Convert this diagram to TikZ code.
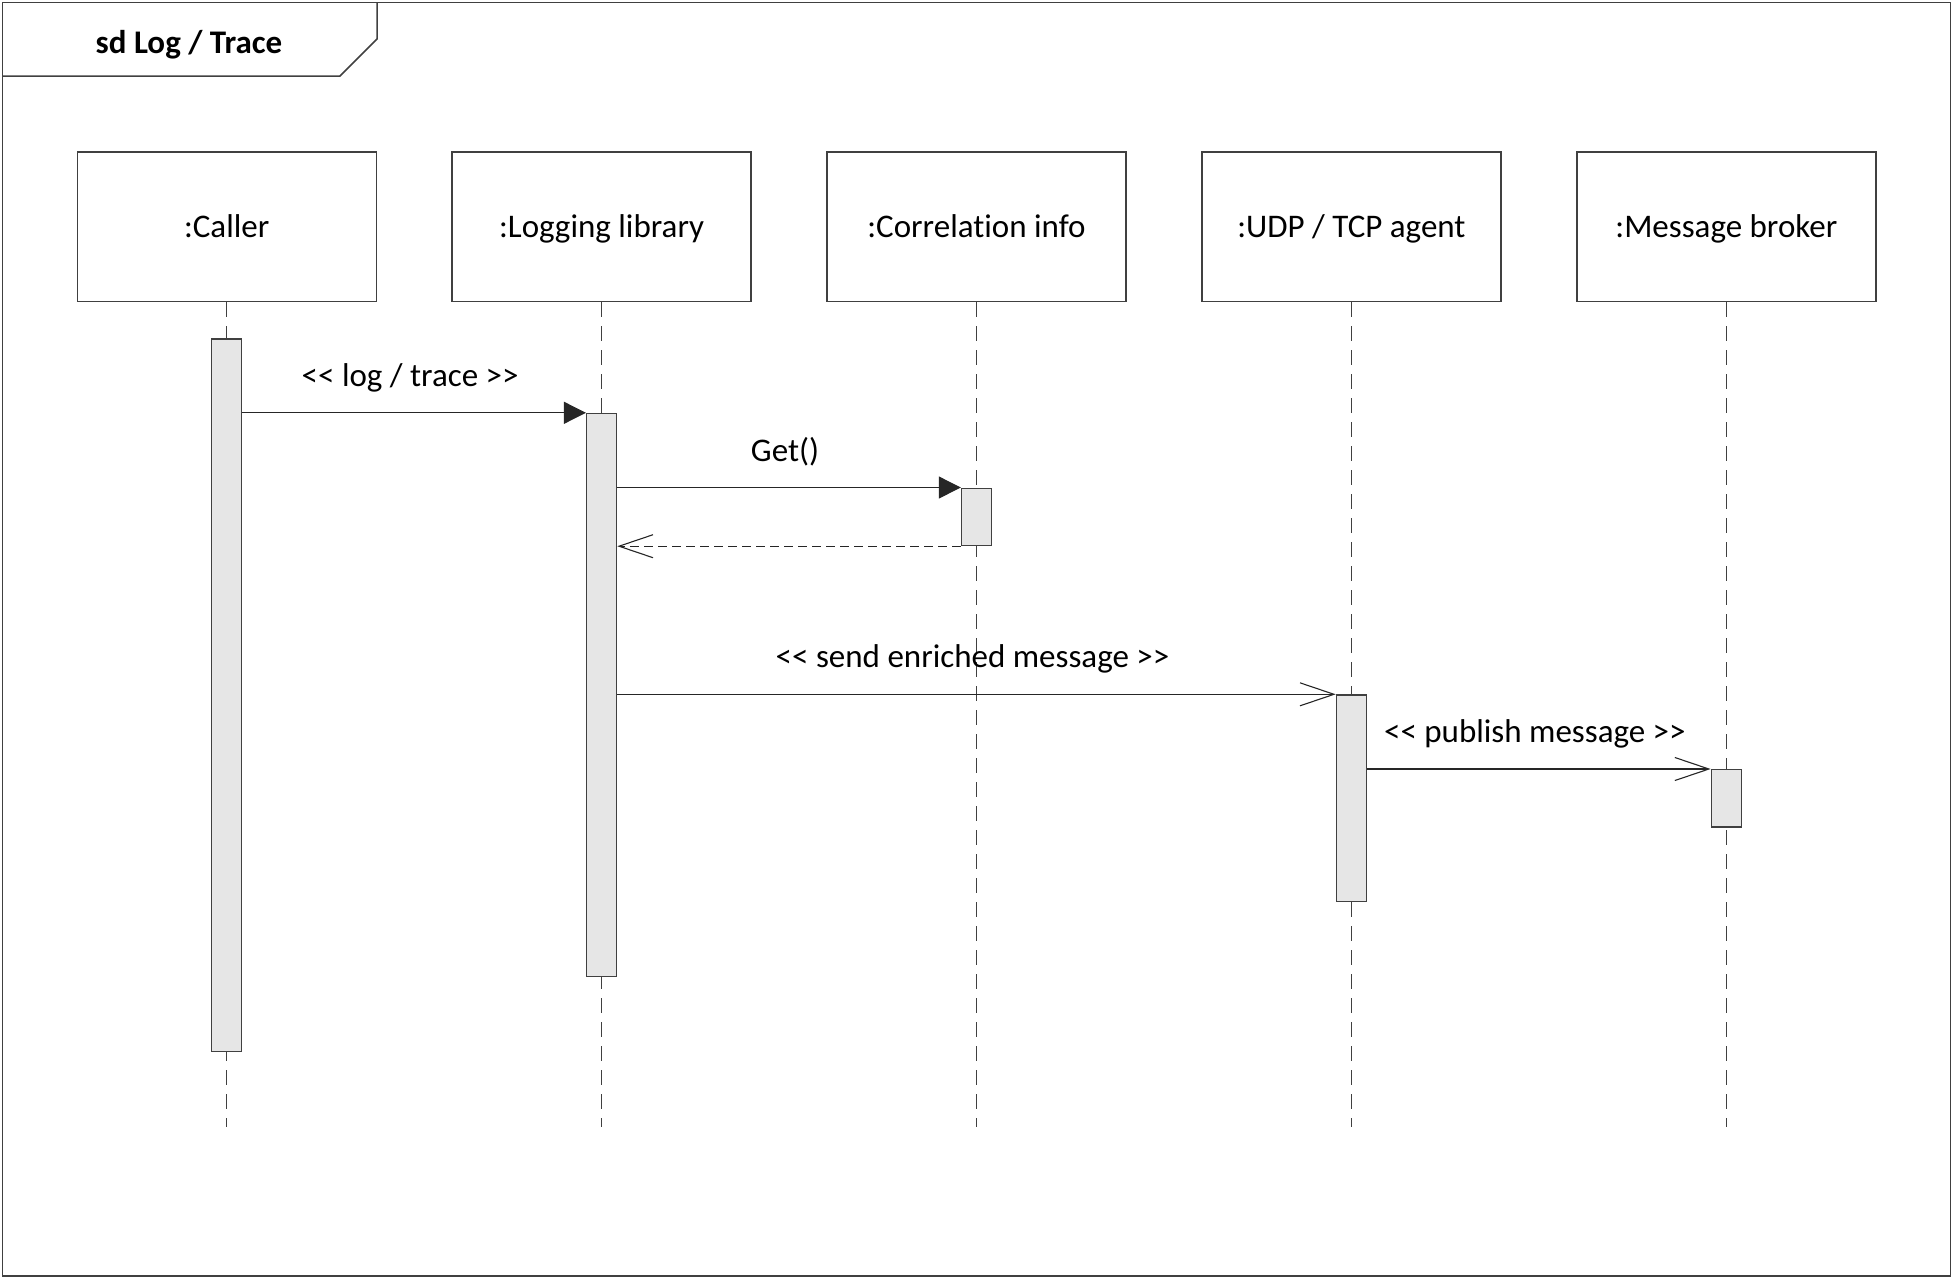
\documentclass[tikz,border=0pt]{standalone}
\usepackage{fontspec}
\setmainfont{Carlito}[Ligatures=NoCommon]
\usetikzlibrary{arrows.meta}

\definecolor{edge}{HTML}{404040}
\definecolor{barfill}{HTML}{E6E6E6}

% guillemet-free stereotype brackets
\newcommand\stl{<\kern0pt<}
\newcommand\stg{>\kern0pt>}

\begin{document}
\begin{tikzpicture}[x=1pt,y=-1pt,
  txt/.style={font=\fontsize{33}{40}\selectfont},
  objbox/.style={draw=edge, line width=1.4pt, fill=white, minimum width=299pt,
    minimum height=149.5pt, inner sep=0pt, text height=21pt, text depth=0pt, txt},
  actbar/.style={draw=edge, line width=1.4pt, fill=barfill, minimum width=30pt,
    inner sep=0pt},
  lifeline/.style={draw=edge, line width=1.2pt, dash pattern=on 15pt off 9pt},
  syncmsg/.style={draw=black!85, line width=1.1pt,
    -{Triangle[length=22pt,width=22pt]}},
  asyncmsg/.style={draw=black!85, line width=1.1pt,
    -{Straight Barb[length=34pt,width=23pt,line width=1.1pt]}},
  replymsg/.style={draw=black!85, line width=1.1pt, dash pattern=on 9pt off 5pt,
    -{Straight Barb[length=34pt,width=23pt,line width=1.1pt]}},
  msglabel/.style={txt, anchor=base, inner sep=0pt, pos=0.5, yshift=26.5pt, xshift=-4pt}
]
\useasboundingbox (0,0) rectangle (1953,1278);

% diagram frame with its name tab
\draw[edge, line width=1.5pt] (2.5,2.5) rectangle (1950.5,1276);
\draw[edge, line width=1.5pt] (2.5,76) -- (340,76) -- (377,39) -- (377,2.5);
\node[txt, anchor=base, inner sep=0pt, font=\fontsize{33}{40}\selectfont\bfseries]
  (title) at (189,53) {sd Log / Trace};

% participants
\node[objbox] (caller) at (226.7,226.7) {:Caller};
\node[objbox] (logger) at (601.6,226.7) {:Logging library};
\node[objbox] (corr)   at (976.5,226.7) {:Correlation info};
\node[objbox] (agent)  at (1351.4,226.7) {:UDP / TCP agent};
\node[objbox] (broker) at (1726.3,226.7) {:Message broker};

% lifeline ends
\coordinate (callerend) at (226.7,1127);
\coordinate (loggerend) at (601.6,1127);
\coordinate (corrend)   at (976.5,1127);
\coordinate (agentend)  at (1351.4,1127);
\coordinate (brokerend) at (1726.3,1127);

\draw[lifeline] (caller.south) -- (callerend);
\draw[lifeline] (logger.south) -- (loggerend);
\draw[lifeline] (corr.south)   -- (corrend);
\draw[lifeline] (agent.south)  -- (agentend);
\draw[lifeline] (broker.south) -- (brokerend);

% activation bars
\node[actbar, minimum height=712.4pt] (callerbar) at (226.7,695.0) {};
\node[actbar, minimum height=563pt]   (loggerbar) at (601.6,695.0) {};
\node[actbar, minimum height=57.3pt]  (corrbar)   at (976.5,516.85) {};
\node[actbar, minimum height=206.7pt] (agentbar)  at (1351.4,798.35) {};
\node[actbar, minimum height=57.3pt]  (brokerbar) at (1726.3,798.35) {};

% messages
\draw[syncmsg] (callerbar.east |- loggerbar.north west) -- (loggerbar.north west)
  node[msglabel] {\stl{} log / trace \stg};
\draw[syncmsg] (loggerbar.east |- corrbar.north west) -- (corrbar.north west)
  node[msglabel] {Get()};
\draw[replymsg] (corrbar.south west) -- (loggerbar.east |- corrbar.south west);
\draw[asyncmsg] (loggerbar.east |- agentbar.north west) -- (agentbar.north west)
  node[msglabel] {\stl{} send enriched message \stg};
\draw[asyncmsg] (agentbar.east |- brokerbar.north west) -- (brokerbar.north west)
  node[msglabel] {\stl{} publish message \stg};
\end{tikzpicture}
\end{document}
